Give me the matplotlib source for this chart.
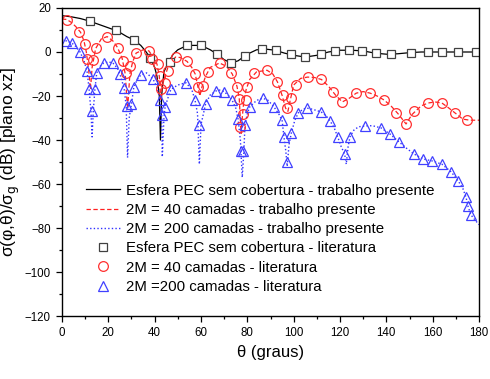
import matplotlib
matplotlib.use('Agg')
import matplotlib.pyplot as plt
from matplotlib.ticker import MultipleLocator

plt.rcParams['font.family'] = ['Liberation Sans', 'DejaVu Sans']

# curva PEC sem cobertura - trabalho presente
th_pec = [0, 4, 8, 12, 16, 20, 24, 28, 31, 34, 36, 38, 40, 41, 42, 42.5, 43, 44, 46, 48,
          50, 53, 56, 60, 64, 67, 70, 73, 76, 80, 84, 88, 92, 96, 100, 105, 110, 115, 120,
          125, 130, 135, 140, 145, 150, 155, 160, 165, 170, 175, 180]
db_pec = [16.5, 16, 15.2, 14, 12.5, 11, 9.5, 7, 5.5, 3, 0.5, -2.5, -7, -11, -20, -40, -20, -9,
          -4.5, -1, 1, 2.5, 3, 3, 1, -1, -3.5, -5, -4, -1, 1, 1.3, 0.8, -0.5, -1.5, -2.3, -1.5,
          0, 0.8, 0.8, 0.5, -0.5, -1, -0.8, -0.3, 0, 0, 0, 0, 0, 0]

# 2M = 40 camadas - trabalho presente
th_40 = [0, 2, 4, 6, 8, 9.5, 10.5, 11.5, 12.3, 13, 14.5, 17, 19.5, 22, 24, 26, 27.3, 28.3,
         29.3, 30.5, 32, 35, 37.5, 39.5, 41, 42, 42.7, 43.3, 44.5, 46, 49, 51, 54, 56, 57.5,
         58.5, 59.5, 60.5, 62, 64, 68, 71, 73.5, 75.5, 76.5, 77.3, 77.8, 78.5, 79.5, 81, 84,
         88.5, 91, 93, 95, 96.5, 97.5, 98.5, 100, 103, 106, 109, 112, 115, 118, 121, 124, 127,
         130, 133, 136, 139, 142, 145, 148.5, 151, 155, 158, 161, 164, 167, 170, 173, 176, 180]
db_40 = [15, 14.8, 13.5, 11.5, 9, 5, 0, -8, -17, -7, 1.5, 6, 7, 5, 2, -3, -10, -26, -10, -4.5,
         -0.5, 1, 0.5, -2.5, -5.5, -11, -22, -15, -11, -6, -2.3, -2.5, -4.3, -7, -10, -15, -20,
         -15.5, -11, -7, -5, -6.5, -10, -15.5, -21, -37, -30, -22, -17, -12.5, -9, -8.3, -10,
         -13.6, -19.7, -25.5, -27, -22, -15, -12, -11.4, -11.6, -12.5, -15.5, -19.5, -22.7, -21,
         -18.7, -18, -18.7, -20, -21.8, -24.5, -28, -32.7, -28.5, -24.5, -23.2, -22.7, -23.2,
         -25.5, -28, -30.5, -31, -31]

# 2M = 200 camadas - trabalho presente
th_200 = [0, 2, 4.3, 6, 7.8, 9.5, 10.8, 11.7, 12.5, 13, 13.5, 14.2, 15, 16.5, 18, 20, 22, 24,
          25, 26.8, 27.7, 28.3, 29, 30, 31, 32.5, 34, 36.5, 39.3, 41, 42.3, 43, 43.3, 44, 44.5,
          46, 47, 50, 53.5, 56, 57.4, 58.5, 59.3, 60, 62, 64, 66.5, 68, 70, 72, 73.4, 75, 76,
          77, 77.8, 78.5, 79, 80, 81, 84, 86.7, 89, 91.5, 93.5, 95, 95.8, 96.6, 97.2, 98, 99,
          100.5, 102, 104, 105.7, 108, 111.8, 114, 115.7, 117.5, 119, 120.5, 122, 122.7, 123.5,
          124.3, 126, 128, 131, 134, 137.7, 141.6, 145.5, 149, 152, 155.8, 159.7, 164, 168, 171,
          173, 174.4, 175.2, 176.5, 178, 180]
db_200 = [5.5, 5, 4, 2.5, 0, -4, -8.6, -16.8, -27, -38.6, -27, -17, -9.5, -6.5, -5, -4.5, -5,
          -7.5, -10, -16.4, -24.5, -48, -30, -23.6, -16, -12.5, -10.5, -9.5, -12.3, -16, -21.8,
          -28.6, -47.7, -30, -25, -20, -17, -15, -14, -17, -21.8, -28, -51, -33, -23.6, -19.5,
          -17.7, -17.3, -18, -20, -21.8, -25.5, -30.5, -40, -57, -45, -33, -28, -25, -22, -21,
          -22, -25, -28, -31, -38.6, -45, -52, -42, -36.8, -31, -27.7, -26, -25.5, -26, -27.2,
          -29, -31.3, -34.5, -38.6, -43, -46.4, -51, -43, -38.6, -35.5, -34, -33.6, -33.5,
          -34.5, -37.3, -40.9, -44, -46.4, -48.6, -49.5, -51, -54.5, -58.6, -62, -66, -70, -74,
          -76, -78.5]

# literatura
th_sq = [12, 23.3, 31, 38.2, 46.6, 54, 60, 67, 73, 79, 86.5, 92.5, 99, 105, 112, 118, 124,
         129.5, 135.5, 142, 150.6, 158, 164, 171, 178.7]
db_sq = [14, 10, 5.5, -2.7, -4.5, 3, 3, -1, -5, -2, 1.4, 0.7, -1, -2.3, -1, 0.5, 1, 0.5,
         -0.5, -1, -0.3, 0, 0, 0, 0]

th_ci = [2.2, 7.5, 10, 11, 13.5, 14.5, 19.5, 24, 26.3, 27.6, 29.5, 32, 37.5, 39, 41.3, 42.3,
         42.7, 44.5, 45.7, 49, 54, 57.6, 58.7, 61, 63, 68, 73, 75.5, 76.4, 77, 78, 79.3, 80,
         83, 88.5, 93, 95.4, 97.3, 99, 100.8, 106, 112, 116.8, 121, 127, 133, 139, 144, 148.5,
         152, 158, 164, 169.6, 175]
db_ci = [14.5, 9, 3.5, -3, -3.5, 2, 7, 2, -4, -9.5, -6.5, -0.5, 0.5, -3, -5.5, -11, -17, -14,
         -8.5, -2.3, -4.3, -10, -15.7, -15.5, -9, -5, -9.5, -15.7, -21.5, -34, -28, -22, -16,
         -9.5, -8.3, -13.6, -19.7, -25.5, -21, -15, -11.4, -12.5, -18, -22.7, -18.7, -18.7,
         -21.8, -27.7, -32.7, -26.8, -23.2, -23.2, -27.7, -31]

th_tr = [1.7, 4.3, 7.8, 10.8, 11.7, 12.9, 14.2, 15, 18, 22, 25, 26.8, 28, 30, 31, 34, 39.3,
         42.3, 43, 44.5, 47, 53.5, 57.4, 59, 62, 66.5, 70, 73.4, 76, 77.2, 78.3, 79, 81, 86.7,
         91.5, 95, 95.8, 97, 99, 102, 105.7, 111.8, 115.7, 119, 122, 124.3, 131, 137.7, 141.6,
         145.5, 152, 155.8, 159.7, 164, 168, 171, 174.4, 175.2, 176.5]
db_tr = [5, 4, 0, -8.6, -16.8, -27, -17, -9.5, -5, -5, -10, -16.4, -24.5, -23.6, -16, -10.5,
         -12.3, -21.8, -28.6, -25, -17, -14, -21.8, -33, -23.6, -17.7, -18, -21.8, -30.5, -45,
         -45, -33, -25, -21, -25, -31, -38.6, -50, -36.8, -27.7, -25.5, -27.2, -31.3, -38.6,
         -46.4, -38.6, -33.6, -34.5, -37.3, -40.9, -46.4, -48.6, -49.5, -51, -54.5, -58.6, -66,
         -70, -74]

fig = plt.figure(figsize=(4.9, 3.79), dpi=100)
ax = fig.add_axes([0.1265, 0.1662, 0.8511, 0.8127])

ax.plot(th_pec, db_pec, color='k', linestyle='solid', linewidth=0.9,
        label='Esfera PEC sem cobertura - trabalho presente')
ax.plot(th_40, db_40, color='#ff2020', linestyle=(0, (3.5, 2)), linewidth=0.9,
        label='2M = 40 camadas - trabalho presente')
ax.plot(th_200, db_200, color='#3030ff', linestyle=(0, (1, 1.6)), linewidth=1.0,
        label='2M = 200 camadas - trabalho presente')
ax.plot(th_sq, db_sq, linestyle='none', marker='s', markersize=6.3, markerfacecolor='white',
        markeredgecolor='#404040', markeredgewidth=0.9,
        label='Esfera PEC sem cobertura - literatura')
ax.plot(th_ci, db_ci, linestyle='none', marker='o', markersize=7, markerfacecolor='none',
        markeredgecolor='#ff3030', markeredgewidth=0.9,
        label='2M = 40 camadas - literatura')
ax.plot(th_tr, db_tr, linestyle='none', marker='^', markersize=7.5, markerfacecolor='none',
        markeredgecolor='#4040ff', markeredgewidth=0.9,
        label='2M =200 camadas - literatura')

ax.set_xlim(0, 180)
ax.set_ylim(-120, 20)
ax.xaxis.set_major_locator(MultipleLocator(20))
ax.xaxis.set_minor_locator(MultipleLocator(10))
ax.yaxis.set_major_locator(MultipleLocator(20))
ax.yaxis.set_minor_locator(MultipleLocator(10))
ax.tick_params(which='both', direction='out', top=False, right=False, labelsize=8.3)
ax.tick_params(which='major', length=4.5, width=0.9)
ax.tick_params(which='minor', length=2.5, width=0.9)
for s in ax.spines.values():
    s.set_linewidth(1.0)

ax.set_xlabel('θ (graus)', fontsize=12, labelpad=4)
ax.set_ylabel('σ(φ,θ)/σ$_\\mathrm{g}$ (dB) [plano xz]', fontsize=12.5, labelpad=2)

ax.legend(loc='lower left', bbox_to_anchor=(0.058, 0.072), frameon=False, fontsize=10.8,
          handlelength=2.27, handletextpad=0.4, labelspacing=0.35, borderaxespad=0,
          borderpad=0)

fig.savefig('out.png', dpi=100)
